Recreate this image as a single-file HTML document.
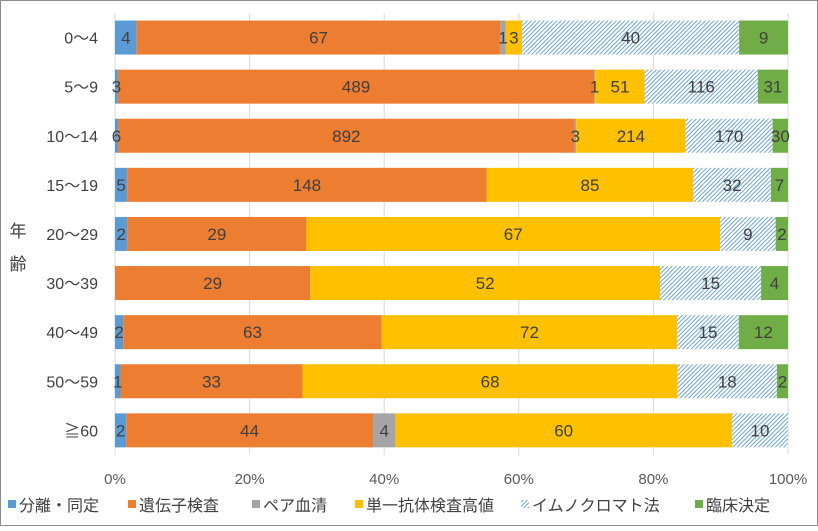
<!DOCTYPE html>
<html><head><meta charset="utf-8"><style>
html,body{margin:0;padding:0;background:#fff;}
svg text{font-family:"Liberation Sans","Noto Sans CJK JP",sans-serif;}
</style></head><body>
<svg id="chart" width="818" height="526" xmlns="http://www.w3.org/2000/svg">
<defs>
<pattern id="hatch" patternUnits="userSpaceOnUse" width="3" height="3" patternTransform="rotate(45)">
<rect width="3" height="3" fill="#fff"/>
<line x1="0" y1="0" x2="0" y2="3" stroke="#5b9bd5" stroke-width="1.8"/>
</pattern>
</defs>
<rect x="0.5" y="0.5" width="817" height="525" fill="#fff" stroke="#8c8c8c"/>
<g id="grid"></g>
<g id="bars"></g>
<g id="labels"></g>
<g id="axes"></g>
<g id="legend"></g>
<text x="18" y="237" font-size="17" fill="#404040" text-anchor="middle">年</text>
<text x="18" y="270" font-size="17" fill="#404040" text-anchor="middle">齢</text>
</svg>
<script>
const categories = ["0〜4","5〜9","10〜14","15〜19","20〜29","30〜39","40〜49","50〜59","≧60"];
const seriesNames = ["分離・同定","遺伝子検査","ペア血清","単一抗体検査高値","イムノクロマト法","臨床決定"];
const isolation = [4,3,6,5,2,0,2,1,2];
const genetic = [67,489,892,148,29,29,63,33,44];
const pairedSerum = [1,1,3,0,0,0,0,0,4];
const singleAntibody = [3,51,214,85,67,52,72,68,60];
const immunochrom = [40,116,170,32,9,15,15,18,10];
const clinical = [9,31,30,7,2,4,12,2,0];
const xTicks = ["0%","20%","40%","60%","80%","100%"];

const series = [isolation, genetic, pairedSerum, singleAntibody, immunochrom, clinical];
const colors = ["#5b9bd5","#ed7d31","#a5a5a5","#ffc000","url(#hatch)","#70ad47"];
const seriesKeys = ["isolation","genetic","paired-serum","single-antibody","immunochromatography","clinical"];
const X0 = 115, X1 = 788, Y0 = 13, ROW = 49.1, BH = 34;
const xScale = p => X0 + (X1 - X0) * p;
const yScale = i => Y0 + ROW * i + (ROW - BH) / 2;
const NS = "http://www.w3.org/2000/svg";
function mk(tag, attrs, parent){const e=document.createElementNS(NS,tag);for(const k in attrs)e.setAttribute(k,attrs[k]);parent.appendChild(e);return e;}
const grid = document.getElementById('grid'), bars = document.getElementById('bars'), labels = document.getElementById('labels'), axes = document.getElementById('axes'), legend = document.getElementById('legend');

xTicks.forEach((t,i)=>{
  const x = xScale(i/(xTicks.length-1));
  const l = mk('line',{x1:x,x2:x,y1:Y0,y2:Y0+ROW*categories.length,stroke:"#d9d9d9","stroke-width":1},grid);
  
  
  const tx = mk('text',{x:x,y:484,"font-size":15,fill:"#595959","text-anchor":"middle"},axes);
  tx.textContent = t;
  
  
});

categories.forEach((c,i)=>{
  const total = series.reduce((s,a)=>s+a[i],0);
  let cum = 0;
  const y = yScale(i);
  const ct = mk('text',{x:98,y:y+BH/2+6,"font-size":16,fill:"#404040","text-anchor":"end"},axes);
  ct.textContent = c;
  
  
  series.forEach((arr,s)=>{
    const v = arr[i];
    if(v<=0) return;
    const xa = xScale(cum/total), xb = xScale((cum+v)/total);
    cum += v;
    const r = mk('rect',{x:xa,y:y,width:xb-xa,height:BH,fill:colors[s]},bars);
    
    
    const t = mk('text',{x:(xa+xb)/2,y:y+BH/2+6,"font-size":17,fill:"#404040","text-anchor":"middle"},labels);
    t.textContent = v;
    
    
  });
});

const legendX = [8,128,252,355,521,695];
seriesNames.forEach((n,s)=>{
  const g = mk('g',{},legend);
  
  
  mk('rect',{x:legendX[s],y:500,width:8,height:8,fill:colors[s]},g);
  const t = mk('text',{x:legendX[s]+11,y:511,"font-size":16,fill:"#404040"},g);
  t.textContent = n;
});
</script>
</body></html>
